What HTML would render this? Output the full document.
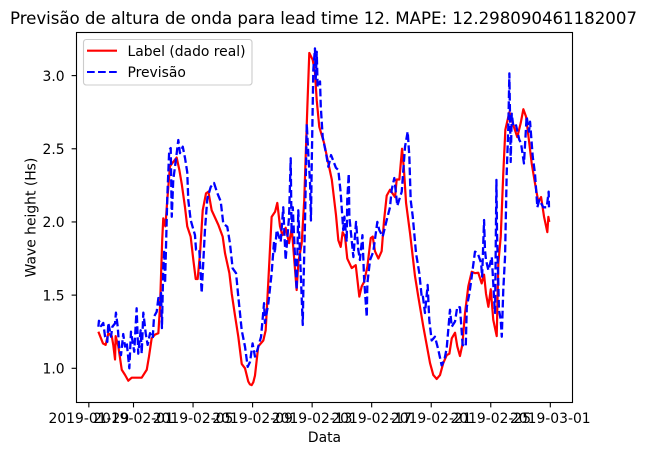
<!DOCTYPE html>
<html lang="pt">
<head>
<meta charset="utf-8">
<title>Previsão de altura de onda</title>
<style>
html,body{margin:0;padding:0;background:#fff;}
svg{display:block;}
text{font-family:"DejaVu Sans","Liberation Sans",sans-serif;fill:#000;}
</style>
</head>
<body>
<svg id="chart" xmlns="http://www.w3.org/2000/svg" width="647" height="455" viewBox="0 0 647 455">
  <rect x="0" y="0" width="647" height="455" fill="#fff"/>
  <text x="323.5" y="24" font-size="16.67" text-anchor="middle" textLength="627" lengthAdjust="spacing">Previsão de altura de onda para lead time 12. MAPE: 12.298090461182007</text>
  <g id="ticks"></g>
  <g id="series"></g>
  <rect x="76.5" y="32.5" width="496" height="370" fill="none" stroke="#000" stroke-width="1.11"/>
  <text x="324.5" y="442" font-size="13.89" text-anchor="middle">Data</text>
  <text transform="translate(35.5,217.5) rotate(-90)" font-size="13.89" text-anchor="middle">Wave height (Hs)</text>
  <g>
    <rect x="83.5" y="39.5" width="168.5" height="45.5" rx="2.8" fill="#fff" fill-opacity="0.8" stroke="#ccc" stroke-width="1.11"/>
    <line x1="87" y1="50.7" x2="117" y2="50.7" stroke="#f00" stroke-width="2.08"/>
    <text x="127.5" y="56" font-size="13.89">Label (dado real)</text>
    <line x1="87" y1="72" x2="117" y2="72" stroke="#00f" stroke-width="2.08" stroke-dasharray="7.7 3.33"/>
    <text x="127.5" y="77" font-size="13.89">Previsão</text>
  </g>
</svg>
<script>
const xTickDays = [-3, 0, 4, 8, 12, 16, 20, 24, 28];
const xTickLabels = ["2019-01-29", "2019-02-01", "2019-02-05", "2019-02-09", "2019-02-13", "2019-02-17", "2019-02-21", "2019-02-25", "2019-03-01"];
const yTickValues = [1.0, 1.5, 2.0, 2.5, 3.0];
const yTickLabels = ["1.0", "1.5", "2.0", "2.5", "3.0"];

// Days since 2019-02-01 and wave height (Hs) for the observed series
const labelDays = [-2.36,-2.05,-1.87,-1.69,-1.46,-1.36,-1.24,-1.20,-1.02,-0.79,-0.57,-0.35,-0.12,0.55,0.89,1.04,1.22,1.44,1.67,1.78,1.93,2.00,2.14,2.27,2.45,2.67,2.90,3.08,3.24,3.46,3.61,3.84,4.02,4.18,4.31,4.47,4.65,4.87,5.03,5.25,5.70,5.99,6.15,6.44,6.60,6.82,7.04,7.27,7.49,7.71,7.82,7.94,8.05,8.16,8.27,8.38,8.72,8.88,9.06,9.28,9.51,9.66,9.84,10.00,10.22,10.45,10.63,10.80,10.96,11.07,11.30,11.47,11.68,11.81,12.04,12.19,12.31,12.48,12.80,13.09,13.32,13.60,13.76,13.92,14.05,14.21,14.36,14.66,14.93,15.03,15.17,15.33,15.49,15.71,15.94,16.07,16.22,16.45,16.67,16.83,17.01,17.23,17.57,17.68,17.86,18.04,18.17,18.31,18.58,18.91,19.13,19.47,19.92,20.14,20.37,20.59,20.81,21.04,21.22,21.38,21.60,21.75,21.93,22.09,22.27,22.49,22.72,22.94,23.16,23.39,23.55,23.68,23.84,24.00,24.17,24.40,24.51,24.67,24.84,24.98,25.25,25.52,25.78,26.01,26.19,26.37,26.55,26.75,26.97,27.19,27.38,27.58,27.80,27.87,27.93];
const labelValues = [1.25,1.17,1.16,1.24,1.22,1.16,1.06,1.22,1.15,0.99,0.955,0.915,0.936,0.936,0.99,1.08,1.205,1.23,1.24,1.42,1.88,2.025,1.97,2.15,2.38,2.41,2.44,2.355,2.26,2.10,1.97,1.90,1.74,1.61,1.61,1.785,2.08,2.195,2.207,2.08,1.98,1.90,1.785,1.65,1.51,1.36,1.216,1.03,1.0,0.91,0.89,0.885,0.905,0.95,1.05,1.15,1.19,1.26,1.60,2.035,2.07,2.13,1.97,1.91,1.96,1.855,1.96,1.74,1.535,1.72,1.855,2.15,2.79,3.155,3.107,3.02,2.83,2.65,2.54,2.40,2.29,2.05,1.875,1.83,1.93,1.90,1.75,1.685,1.705,1.615,1.49,1.56,1.59,1.695,1.89,1.90,1.80,1.75,1.80,2.01,2.18,2.22,2.17,2.29,2.29,2.50,2.355,2.13,1.92,1.63,1.49,1.284,1.036,0.954,0.927,0.954,1.036,1.09,1.10,1.205,1.243,1.15,1.084,1.16,1.377,1.56,1.66,1.65,1.653,1.58,1.64,1.51,1.42,1.54,1.33,1.22,1.72,1.90,2.33,2.63,2.75,2.66,2.58,2.675,2.77,2.72,2.57,2.40,2.265,2.14,2.17,2.035,1.93,2.035,2.00];

// Days since 2019-02-01 and wave height (Hs) for the forecast series
const previsaoDays = [-2.36,-2.32,-2.18,-2.03,-1.91,-1.76,-1.69,-1.51,-1.42,-1.24,-1.18,-1.06,-0.95,-0.84,-0.69,-0.57,-0.46,-0.28,-0.17,0.05,0.21,0.32,0.48,0.55,0.66,0.82,0.95,1.11,1.29,1.38,1.56,1.67,1.78,1.85,1.91,2.00,2.07,2.12,2.27,2.40,2.50,2.57,2.67,2.83,3.01,3.12,3.31,3.46,3.61,3.68,3.84,4.13,4.20,4.42,4.58,4.80,4.96,5.19,5.41,5.63,5.86,6.03,6.30,6.48,6.66,6.89,7.04,7.27,7.49,7.67,7.83,8.00,8.16,8.32,8.57,8.77,8.83,9.06,9.28,9.44,9.49,9.62,9.89,10.06,10.22,10.45,10.56,10.62,10.70,10.85,10.96,11.07,11.37,11.41,11.52,11.64,11.74,11.86,11.92,11.97,12.08,12.19,12.24,12.31,12.37,12.53,12.58,12.71,12.93,13.09,13.27,13.60,13.76,13.92,14.09,14.17,14.32,14.36,14.46,14.50,14.77,14.95,15.10,15.21,15.38,15.49,15.67,15.71,15.89,16.11,16.38,16.51,16.74,17.01,17.23,17.34,17.52,17.72,18.02,18.24,18.42,18.53,18.62,18.76,18.98,19.20,19.36,19.43,19.58,19.76,19.87,20.03,20.25,20.48,20.70,20.88,21.04,21.26,21.38,21.60,21.75,21.93,22.11,22.32,22.39,22.57,22.72,22.94,23.12,23.35,23.42,23.55,23.61,23.68,23.84,24.07,24.24,24.29,24.38,24.42,24.55,24.67,24.74,24.84,24.96,25.07,25.18,25.25,25.34,25.41,25.52,25.70,25.92,26.03,26.23,26.41,26.57,26.64,26.82,26.97,27.13,27.26,27.53,27.76,27.89,27.91];
const previsaoValues = [1.284,1.325,1.289,1.31,1.216,1.18,1.31,1.216,1.284,1.307,1.38,1.284,1.125,1.09,1.234,1.148,1.18,1.0,1.25,1.113,1.41,1.10,1.26,1.10,1.38,1.24,1.16,1.24,1.207,1.353,1.387,1.48,1.43,1.515,1.275,1.69,1.81,1.58,2.17,2.49,2.505,2.036,2.287,2.41,2.56,2.47,2.514,2.437,2.34,2.15,2.013,1.91,1.81,1.81,1.515,1.945,2.16,2.24,2.266,2.197,2.14,1.99,1.967,1.854,1.683,1.65,1.49,1.26,1.148,1.01,1.045,1.17,1.08,1.125,1.216,1.445,1.31,1.445,1.65,1.865,1.787,1.945,1.865,2.10,1.74,2.036,2.435,1.92,2.10,1.76,1.535,2.08,1.296,1.535,1.99,2.67,2.47,2.266,2.01,2.377,3.04,3.186,2.97,3.163,2.92,2.96,2.79,2.58,2.47,2.377,2.457,2.37,2.355,2.197,1.945,2.036,1.865,2.15,2.33,2.036,1.76,2.0,1.81,1.74,1.91,1.615,1.35,1.58,1.74,1.797,2.0,1.945,1.90,2.013,2.10,2.218,2.30,2.11,2.207,2.514,2.617,2.446,2.15,2.036,1.786,1.65,1.49,1.50,1.378,1.57,1.33,1.19,1.216,1.125,1.02,1.056,1.137,1.40,1.284,1.32,1.42,1.417,1.16,1.148,1.42,1.515,1.626,1.797,1.787,1.72,1.626,2.013,1.81,1.74,1.67,1.76,1.445,1.378,2.287,1.925,1.40,1.33,1.216,1.535,1.763,2.33,2.65,3.015,2.41,2.74,2.65,2.66,2.56,2.54,2.40,2.72,2.617,2.685,2.446,2.33,2.10,2.15,2.10,2.10,2.207,2.10];

const SVG_NS = "http://www.w3.org/2000/svg";
function xScale(day) { return 133.5 + day * 14.886; }
function yScale(value) { return 368.3 - (value - 1) * 146.35; }
function linePoints(days, values) {
  return days.map(function (d, i) { return xScale(d).toFixed(2) + "," + yScale(values[i]).toFixed(2); }).join(" ");
}

const ticksGroup = document.getElementById("ticks");
xTickDays.forEach(function (day, i) {
  const px = xScale(day);
  const tick = document.createElementNS(SVG_NS, "line");
  
  
  tick.setAttribute("x1", px); tick.setAttribute("x2", px);
  tick.setAttribute("y1", 402.5); tick.setAttribute("y2", 407.4);
  tick.setAttribute("stroke", "#000"); tick.setAttribute("stroke-width", "1.11");
  ticksGroup.appendChild(tick);
  const label = document.createElementNS(SVG_NS, "text");
  
  
  label.setAttribute("x", px); label.setAttribute("y", 423);
  label.setAttribute("font-size", "13.89"); label.setAttribute("text-anchor", "middle");
  label.textContent = xTickLabels[i];
  ticksGroup.appendChild(label);
});
yTickValues.forEach(function (value, i) {
  const py = yScale(value);
  const tick = document.createElementNS(SVG_NS, "line");
  
  
  tick.setAttribute("x1", 71.6); tick.setAttribute("x2", 76.5);
  tick.setAttribute("y1", py); tick.setAttribute("y2", py);
  tick.setAttribute("stroke", "#000"); tick.setAttribute("stroke-width", "1.11");
  ticksGroup.appendChild(tick);
  const label = document.createElementNS(SVG_NS, "text");
  
  
  label.setAttribute("x", 64.6); label.setAttribute("y", py + 5.2);
  label.setAttribute("font-size", "13.89"); label.setAttribute("text-anchor", "end");
  label.textContent = yTickLabels[i];
  ticksGroup.appendChild(label);
});

const seriesGroup = document.getElementById("series");
const labelLine = document.createElementNS(SVG_NS, "polyline");


labelLine.setAttribute("points", linePoints(labelDays, labelValues));
labelLine.setAttribute("fill", "none");
labelLine.setAttribute("stroke", "#f00");
labelLine.setAttribute("stroke-width", "2.2");
labelLine.setAttribute("stroke-linejoin", "round");
seriesGroup.appendChild(labelLine);

const previsaoLine = document.createElementNS(SVG_NS, "polyline");


previsaoLine.setAttribute("points", linePoints(previsaoDays, previsaoValues));
previsaoLine.setAttribute("fill", "none");
previsaoLine.setAttribute("stroke", "#00f");
previsaoLine.setAttribute("stroke-width", "2.3");
previsaoLine.setAttribute("stroke-dasharray", "7.7 3.33");
previsaoLine.setAttribute("stroke-linejoin", "round");
seriesGroup.appendChild(previsaoLine);
</script>
</body>
</html>
